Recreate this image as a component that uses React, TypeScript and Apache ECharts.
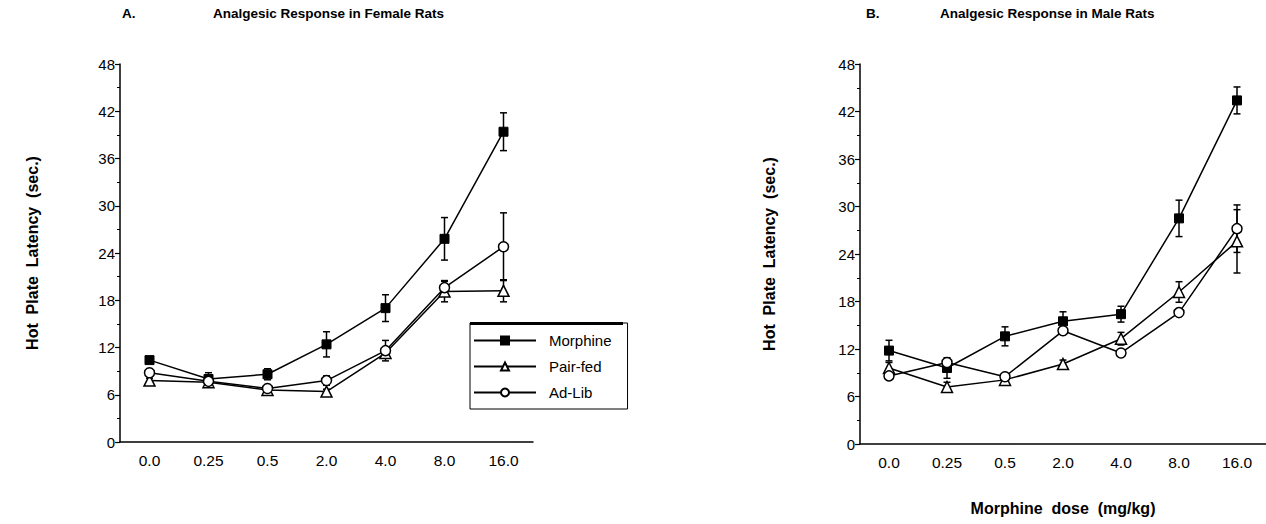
import React, { useEffect, useRef } from "react";
import * as echarts from "echarts";

const categories = ["0.0", "0.25", "0.5", "2.0", "4.0", "8.0", "16.0"];
const seriesNames = ["Morphine", "Pair-fed", "Ad-Lib"];

// Female rats (panel A)
const femaleMorphine = [10.4, 8.0, 8.6, 12.4, 17.0, 25.8, 39.4];
const femaleMorphineErr = [0.4, 0.8, 0.7, 1.6, 1.7, 2.7, 2.4];
const femalePairFed = [7.8, 7.6, 6.6, 6.4, 11.3, 19.1, 19.2];
const femalePairFedErr = [0.3, 0.4, 0.4, 0.3, 0.6, 1.3, 1.4];
const femaleAdLib = [8.8, 7.7, 6.8, 7.8, 11.6, 19.6, 24.8];
const femaleAdLibErr = [0.3, 0.5, 0.4, 0.6, 1.3, 0.9, 4.3];

// Male rats (panel B)
const maleMorphine = [11.8, 9.6, 13.6, 15.5, 16.4, 28.5, 43.4];
const maleMorphineErr = [1.3, 1.3, 1.2, 1.2, 1.0, 2.3, 1.7];
const malePairFed = [9.6, 7.2, 8.1, 10.1, 13.3, 19.2, 25.6];
const malePairFedErr = [0.7, 0.6, 0.4, 0.5, 0.8, 1.3, 4.0];
const maleAdLib = [8.6, 10.3, 8.5, 14.3, 11.5, 16.6, 27.2];
const maleAdLibErr = [0.3, 0.4, 0.3, 0.4, 0.3, 0.4, 3.0];

const FONT = "'Liberation Sans', Arial, Helvetica, sans-serif";

const symbolStyles: any[] = [
  { symbol: "rect", symbolSize: 9, itemStyle: { color: "#000", borderColor: "#000", borderWidth: 1 } },
  { symbol: "triangle", symbolSize: 11, itemStyle: { color: "#fff", borderColor: "#000", borderWidth: 1.5 } },
  { symbol: "circle", symbolSize: 10, itemStyle: { color: "#fff", borderColor: "#000", borderWidth: 1.5 } },
];

function errorSeries(values: number[], errs: number[], idx: number) {
  return {
    type: "custom",
    xAxisIndex: idx * 2,
    yAxisIndex: idx,
    z: 1,
    silent: true,
    data: values.map((v, i) => [i, v - errs[i], v + errs[i]]),
    encode: { x: 0, y: [1, 2] },
    renderItem: (params: any, api: any) => {
      const x = api.value(0);
      const lo = api.coord([x, api.value(1)]);
      const hi = api.coord([x, api.value(2)]);
      const w = 3.5;
      const st = { stroke: "#000", lineWidth: 1.5 };
      return {
        type: "group",
        children: [
          { type: "line", shape: { x1: hi[0], y1: hi[1], x2: lo[0], y2: lo[1] }, style: st },
          { type: "line", shape: { x1: hi[0] - w, y1: hi[1], x2: hi[0] + w, y2: hi[1] }, style: st },
          { type: "line", shape: { x1: lo[0] - w, y1: lo[1], x2: lo[0] + w, y2: lo[1] }, style: st },
        ],
      };
    },
  };
}

function lineSeries(name: string, values: number[], idx: number, k: number) {
  return {
    type: "line",
    name,
    xAxisIndex: idx * 2,
    yAxisIndex: idx,
    z: 3,
    data: values,
    lineStyle: { color: "#000", width: 1.5 },
    ...symbolStyles[k],
  };
}

function xAxes(gridIndex: number, withName: boolean) {
  return [
    {
      type: "category",
      gridIndex,
      data: categories,
      boundaryGap: true,
      axisLine: { lineStyle: { color: "#000", width: 1.5 } },
      axisTick: { alignWithLabel: true, length: 5, lineStyle: { color: "#000", width: 1.2 } },
      axisLabel: { color: "#000", fontSize: 15.5, fontFamily: FONT, margin: 10 },
      name: withName ? "Morphine  dose  (mg/kg)" : "",
      nameLocation: "middle",
      nameGap: 56,
      nameTextStyle: { color: "#000", fontSize: 16, fontWeight: "bold", fontFamily: FONT },
    },
    {
      type: "category",
      gridIndex,
      data: categories,
      boundaryGap: true,
      axisLine: { show: false },
      axisTick: { length: 2, lineStyle: { color: "#000", width: 1 } },
      axisLabel: { show: false },
    },
  ];
}

function yAxis(gridIndex: number, nameGap: number) {
  return {
    type: "value",
    gridIndex,
    min: 0,
    max: 48,
    interval: 6,
    splitLine: { show: false },
    axisLine: { show: true, lineStyle: { color: "#000", width: 1.5 } },
    axisTick: { show: true, length: 5, lineStyle: { color: "#000", width: 1.2 } },
    minorTick: { show: true, splitNumber: 2, length: 3, lineStyle: { color: "#000", width: 1 } },
    axisLabel: { color: "#000", fontSize: 15, fontFamily: FONT, margin: 5 },
    name: "Hot  Plate  Latency  (sec.)",
    nameLocation: "middle",
    nameGap,
    nameTextStyle: { color: "#000", fontSize: 16, fontWeight: "bold", fontFamily: FONT },
  };
}

export default function App() {
  const ref = useRef<HTMLDivElement>(null);
  useEffect(() => {
    document.body.style.margin = "0";
    if (!ref.current) return;
    const chart = echarts.init(ref.current, null, { renderer: "svg" });
    const titleStyle = { color: "#000", fontSize: 13.5, fontWeight: "bold" as const, fontFamily: FONT };
    chart.setOption({
      animation: false,
      backgroundColor: "#fff",
      title: [
        { text: "A.", left: 122, top: 6, textStyle: titleStyle, padding: 0 },
        { text: "Analgesic Response in Female Rats", left: 213, top: 6, textStyle: titleStyle, padding: 0 },
        { text: "B.", left: 866, top: 6, textStyle: titleStyle, padding: 0 },
        { text: "Analgesic Response in Male Rats", left: 940, top: 6, textStyle: titleStyle, padding: 0 },
      ],
      grid: [
        { left: 120, top: 64, width: 413, height: 378 },
        { left: 860, top: 64, width: 413, height: 380 },
      ],
      xAxis: [...xAxes(0, false), ...xAxes(1, true)],
      yAxis: [yAxis(0, 80), yAxis(1, 83)],
      legend: {
        data: seriesNames,
        orient: "vertical",
        left: 470,
        top: 323,
        width: 150,
        itemWidth: 62,
        itemHeight: 10,
        itemGap: 11,
        padding: [10, 16, 9, 3],
        borderColor: "#000",
        borderWidth: 1,
        backgroundColor: "#fff",
        selectedMode: false,
        textStyle: { color: "#000", fontSize: 15, fontFamily: FONT, padding: [0, 0, 0, 8] },
      },
      graphic: [
        {
          type: "line",
          shape: { x1: 470, y1: 323.5, x2: 623, y2: 323.5 },
          style: { stroke: "#000", lineWidth: 3 },
          z: 100,
        },
      ],
      series: [
        errorSeries(femaleMorphine, femaleMorphineErr, 0),
        errorSeries(femalePairFed, femalePairFedErr, 0),
        errorSeries(femaleAdLib, femaleAdLibErr, 0),
        lineSeries(seriesNames[0], femaleMorphine, 0, 0),
        lineSeries(seriesNames[1], femalePairFed, 0, 1),
        lineSeries(seriesNames[2], femaleAdLib, 0, 2),
        errorSeries(maleMorphine, maleMorphineErr, 1),
        errorSeries(malePairFed, malePairFedErr, 1),
        errorSeries(maleAdLib, maleAdLibErr, 1),
        lineSeries(seriesNames[0], maleMorphine, 1, 0),
        lineSeries(seriesNames[1], malePairFed, 1, 1),
        lineSeries(seriesNames[2], maleAdLib, 1, 2),
      ],
    });
    return () => chart.dispose();
  }, []);
  return <div ref={ref} style={{ width: 1266, height: 524 }} />;
}
